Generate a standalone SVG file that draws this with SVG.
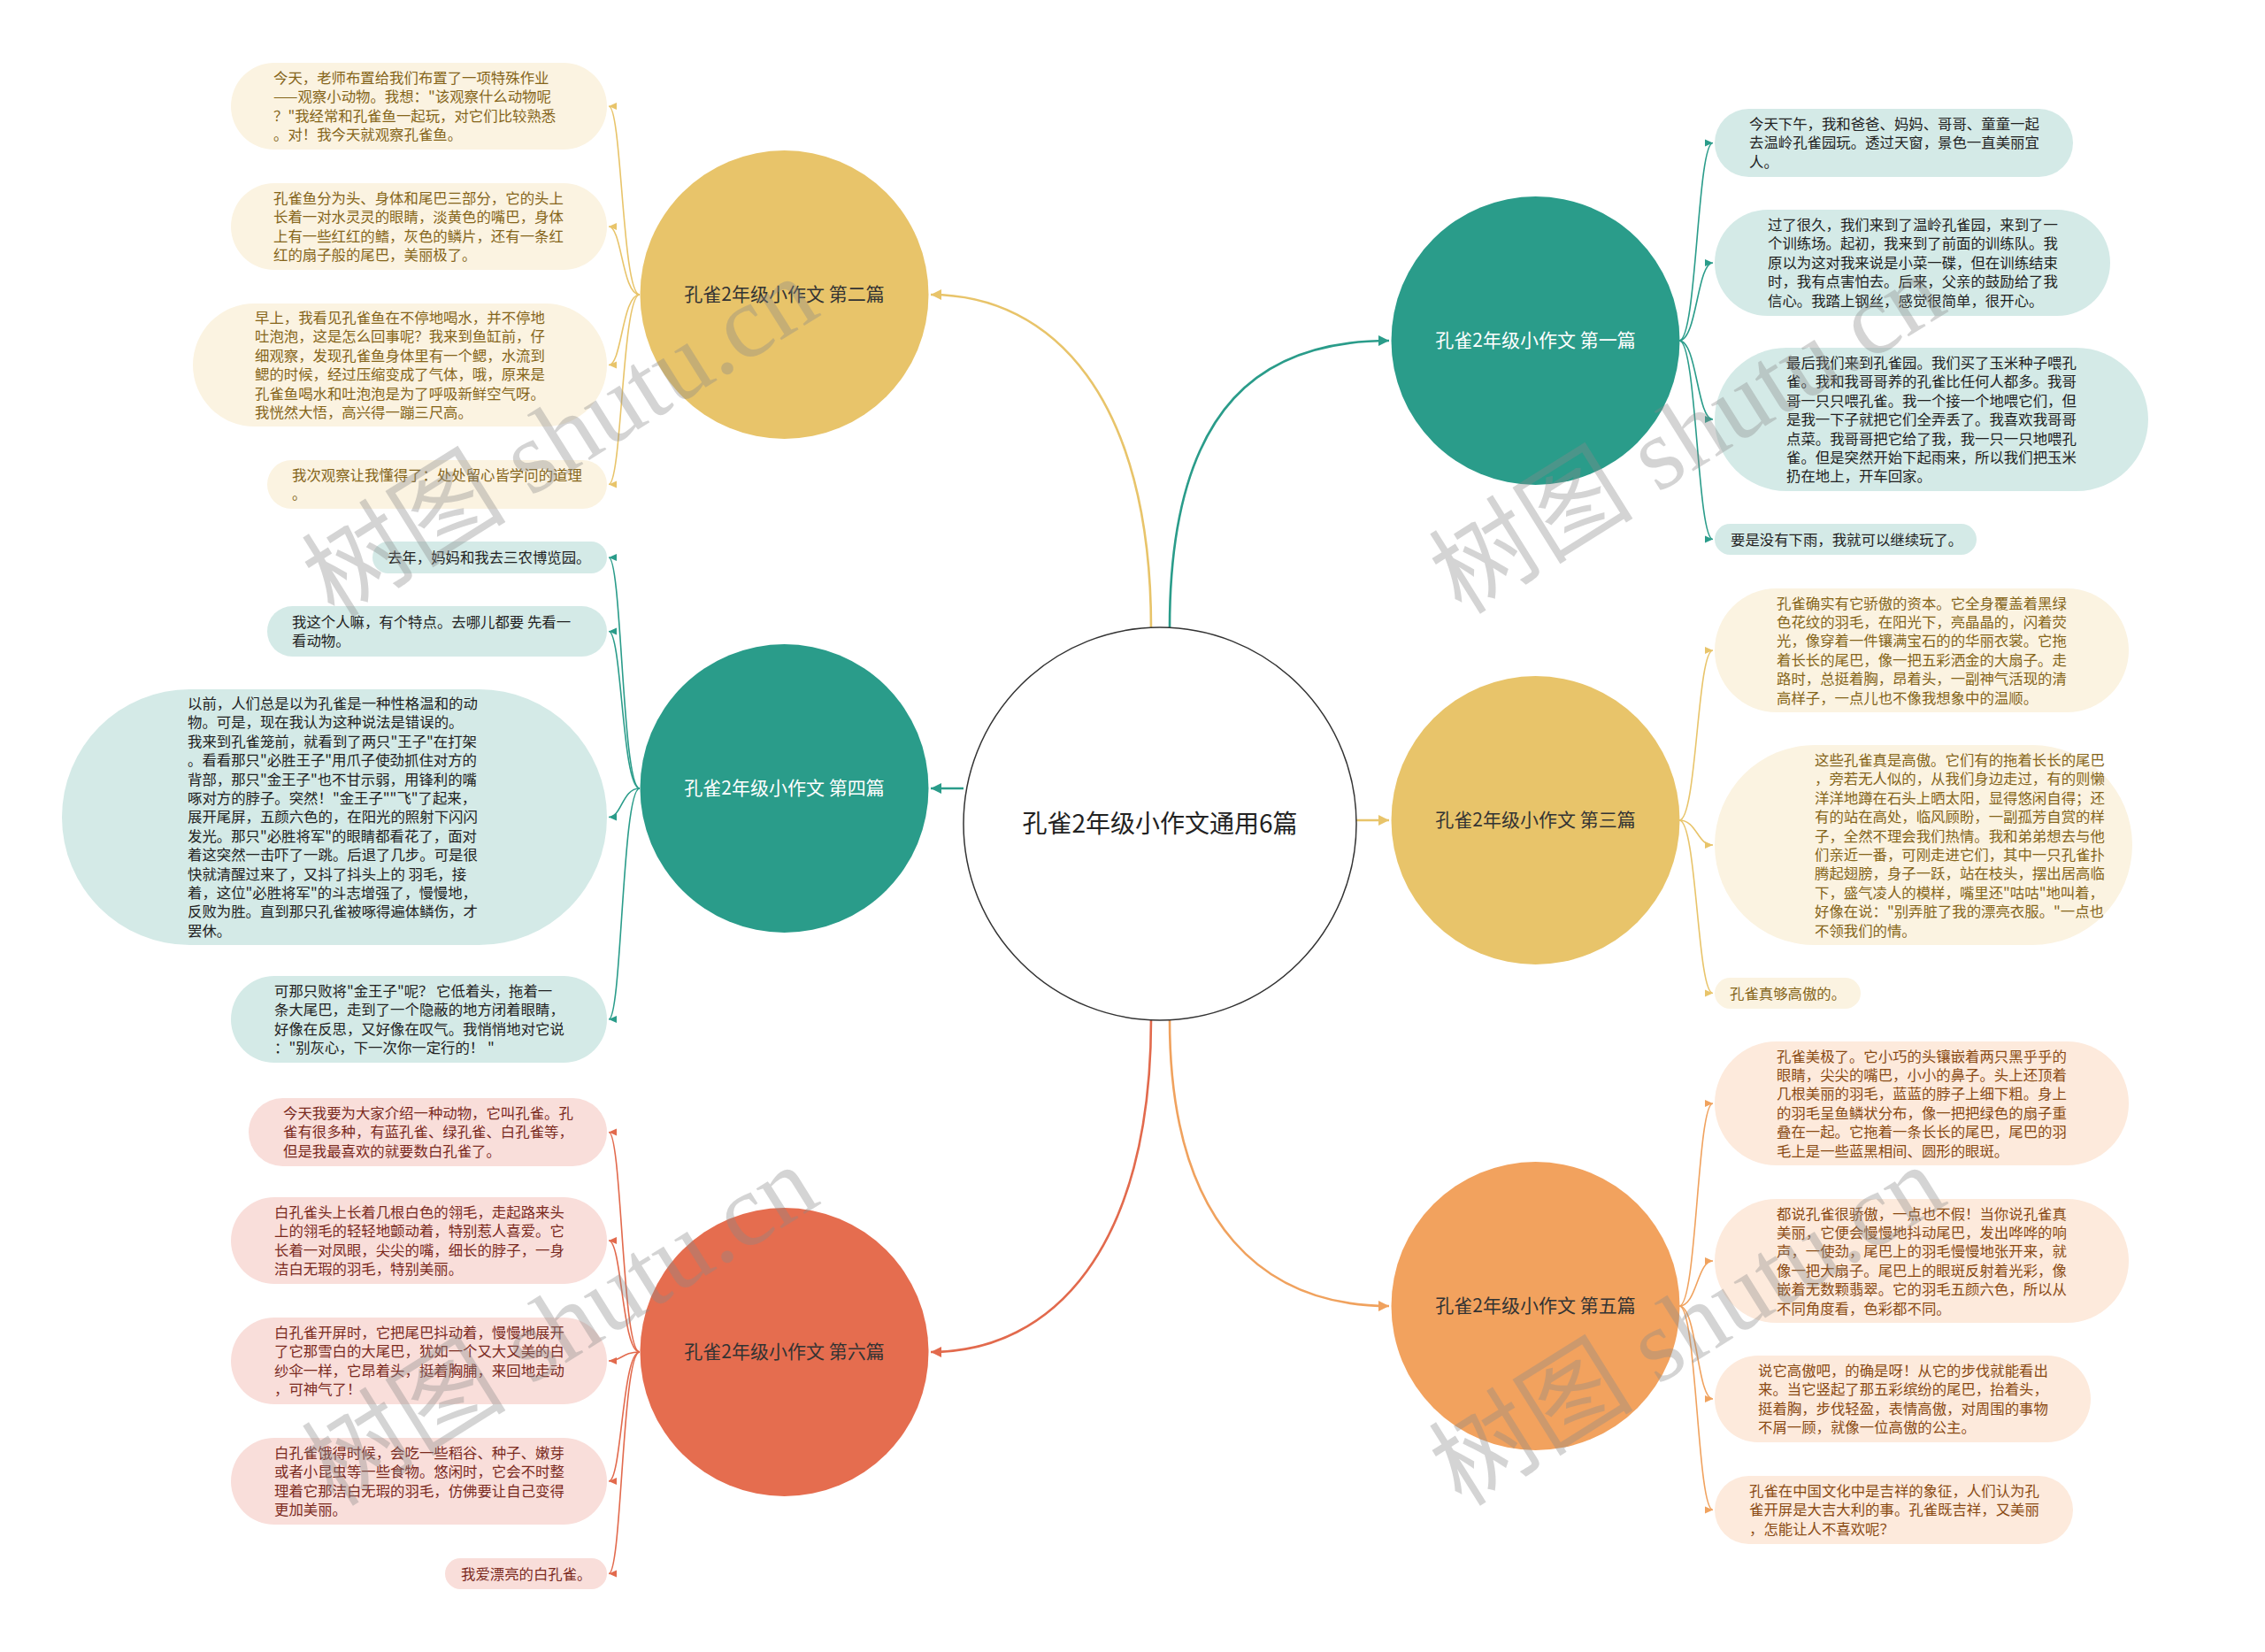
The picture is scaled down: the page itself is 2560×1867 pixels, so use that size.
<svg xmlns="http://www.w3.org/2000/svg" width="2560" height="1867" viewBox="0 0 2560 1867">
<style>
.t{font-family:"Noto Sans CJK SC","Noto Sans",sans-serif;font-size:16.4px}
.tt{fill:#222}.ty{fill:#85651a}.tr{fill:#7b2a1e}.to{fill:#8a4a14}
.bt{fill:#d4eae7}.by{fill:#fbf3e1}.br{fill:#f9deda}.bo{fill:#fdeadc}
.nt{font-family:"Noto Sans CJK SC","Noto Sans",sans-serif;font-size:21px;text-anchor:middle}
.ct{stroke:#2a9c8a}.cy{stroke:#e8c46a}.cr{stroke:#e26a4d}.co{stroke:#f0a25e}
.lc{fill:none;stroke-width:1.6}
.mc{fill:none;stroke-width:2.6}
.wm{font-family:"Liberation Serif","Noto Sans CJK SC",serif;font-size:116px;fill:#8a8a8a;opacity:0.36}
</style>
<defs>
<marker id="at" markerUnits="userSpaceOnUse" markerWidth="10" markerHeight="10" refX="9" refY="5" orient="auto"><path d="M0,1 L9,5 L0,9 z" fill="#2a9c8a"/></marker>
<marker id="ay" markerUnits="userSpaceOnUse" markerWidth="10" markerHeight="10" refX="9" refY="5" orient="auto"><path d="M0,1 L9,5 L0,9 z" fill="#e8c46a"/></marker>
<marker id="ar" markerUnits="userSpaceOnUse" markerWidth="10" markerHeight="10" refX="9" refY="5" orient="auto"><path d="M0,1 L9,5 L0,9 z" fill="#e26a4d"/></marker>
<marker id="ao" markerUnits="userSpaceOnUse" markerWidth="10" markerHeight="10" refX="9" refY="5" orient="auto"><path d="M0,1 L9,5 L0,9 z" fill="#f0a25e"/></marker>
<marker id="mt" markerUnits="userSpaceOnUse" markerWidth="14" markerHeight="14" refX="12" refY="7" orient="auto"><path d="M0,1 L12,7 L0,13 z" fill="#2a9c8a"/></marker>
<marker id="my" markerUnits="userSpaceOnUse" markerWidth="14" markerHeight="14" refX="12" refY="7" orient="auto"><path d="M0,1 L12,7 L0,13 z" fill="#e8c46a"/></marker>
<marker id="mr" markerUnits="userSpaceOnUse" markerWidth="14" markerHeight="14" refX="12" refY="7" orient="auto"><path d="M0,1 L12,7 L0,13 z" fill="#e26a4d"/></marker>
<marker id="mo" markerUnits="userSpaceOnUse" markerWidth="14" markerHeight="14" refX="12" refY="7" orient="auto"><path d="M0,1 L12,7 L0,13 z" fill="#f0a25e"/></marker>
</defs>
<rect width="2560" height="1867" fill="#ffffff"/>

<g id="connectors">
<path class="mc cy" d="M1301,710 C1301,450 1190,333 1052,333" marker-end="url(#my)"/>
<path class="mc ct" d="M1322,710 C1322,450 1433,385 1570,385" marker-end="url(#mt)"/>
<path class="mc ct" d="M1089,891 L1052,891" marker-end="url(#mt)"/>
<path class="mc cy" d="M1533,927 L1570,927" marker-end="url(#my)"/>
<path class="mc cr" d="M1301,1152 C1301,1410 1190,1528 1052,1528" marker-end="url(#mr)"/>
<path class="mc co" d="M1322,1152 C1322,1390 1433,1476 1570,1476" marker-end="url(#mo)"/>

<path class="lc cy" d="M723,333 C703,333 703,120 688,120" marker-end="url(#ay)"/>
<path class="lc cy" d="M723,333 C703,333 703,256 688,256" marker-end="url(#ay)"/>
<path class="lc cy" d="M723,333 C703,333 703,412.5 688,412.5" marker-end="url(#ay)"/>
<path class="lc cy" d="M723,333 C703,333 703,547.5 688,547.5" marker-end="url(#ay)"/>

<path class="lc ct" d="M723,891 C703,891 703,630 688,630" marker-end="url(#at)"/>
<path class="lc ct" d="M723,891 C703,891 703,713.5 688,713.5" marker-end="url(#at)"/>
<path class="lc ct" d="M723,891 C703,891 703,923.5 688,923.5" marker-end="url(#at)"/>
<path class="lc ct" d="M723,891 C703,891 703,1152 688,1152" marker-end="url(#at)"/>

<path class="lc cr" d="M723,1528 C703,1528 703,1279.5 688,1279.5" marker-end="url(#ar)"/>
<path class="lc cr" d="M723,1528 C703,1528 703,1402 688,1402" marker-end="url(#ar)"/>
<path class="lc cr" d="M723,1528 C703,1528 703,1538 688,1538" marker-end="url(#ar)"/>
<path class="lc cr" d="M723,1528 C703,1528 703,1674 688,1674" marker-end="url(#ar)"/>
<path class="lc cr" d="M723,1528 C703,1528 703,1778.5 688,1778.5" marker-end="url(#ar)"/>

<path class="lc ct" d="M1898,385 C1918,385 1918,161.5 1936,161.5" marker-end="url(#at)"/>
<path class="lc ct" d="M1898,385 C1918,385 1918,297 1936,297" marker-end="url(#at)"/>
<path class="lc ct" d="M1898,385 C1918,385 1918,474 1936,474" marker-end="url(#at)"/>
<path class="lc ct" d="M1898,385 C1918,385 1918,609.5 1936,609.5" marker-end="url(#at)"/>

<path class="lc cy" d="M1898,927 C1918,927 1918,735 1936,735" marker-end="url(#ay)"/>
<path class="lc cy" d="M1898,927 C1918,927 1918,955 1936,955" marker-end="url(#ay)"/>
<path class="lc cy" d="M1898,927 C1918,927 1918,1122.5 1936,1122.5" marker-end="url(#ay)"/>

<path class="lc co" d="M1898,1476 C1918,1476 1918,1247 1936,1247" marker-end="url(#ao)"/>
<path class="lc co" d="M1898,1476 C1918,1476 1918,1425 1936,1425" marker-end="url(#ao)"/>
<path class="lc co" d="M1898,1476 C1918,1476 1918,1581 1936,1581" marker-end="url(#ao)"/>
<path class="lc co" d="M1898,1476 C1918,1476 1918,1706.5 1936,1706.5" marker-end="url(#ao)"/>
</g>

<g id="center">
<circle cx="1311" cy="931" r="222" fill="#ffffff" stroke="#333333" stroke-width="1.5"/>
<text x="1311" y="941" class="nt" style="font-size:28px" fill="#222">孔雀2年级小作文通用6篇</text>
</g>

<g id="n2"><circle cx="886.5" cy="333" r="163" fill="#e8c46a"/><text x="886.5" y="340" class="nt" fill="#333">孔雀2年级小作文 第二篇</text></g>
<g id="n4"><circle cx="886.5" cy="891" r="163" fill="#2a9c8a"/><text x="886.5" y="898" class="nt" fill="#ffffff">孔雀2年级小作文 第四篇</text></g>
<g id="n6"><circle cx="886.5" cy="1528" r="163" fill="#e56d4f"/><text x="886.5" y="1535" class="nt" fill="#333">孔雀2年级小作文 第六篇</text></g>
<g id="n1"><circle cx="1735.5" cy="385" r="163" fill="#2a9c8a"/><text x="1735.5" y="392" class="nt" fill="#ffffff">孔雀2年级小作文 第一篇</text></g>
<g id="n3"><circle cx="1735.5" cy="927" r="163" fill="#e8c46a"/><text x="1735.5" y="934" class="nt" fill="#333">孔雀2年级小作文 第三篇</text></g>
<g id="n5"><circle cx="1735.5" cy="1476" r="163" fill="#f2a25e"/><text x="1735.5" y="1483" class="nt" fill="#333">孔雀2年级小作文 第五篇</text></g>

<g id="l2-1"><rect x="261" y="71" width="425" height="98" rx="49" class="by"/>
<text class="t ty" x="309" y="94"><tspan x="309">今天，老师布置给我们布置了一项特殊作业</tspan><tspan x="309" dy="21.4">——观察小动物。我想："该观察什么动物呢</tspan><tspan x="309" dy="21.4">？"我经常和孔雀鱼一起玩，对它们比较熟悉</tspan><tspan x="309" dy="21.4">。对！我今天就观察孔雀鱼。</tspan></text></g>
<g id="l2-2"><rect x="261" y="207" width="425" height="98" rx="49" class="by"/>
<text class="t ty" x="309" y="230"><tspan x="309">孔雀鱼分为头、身体和尾巴三部分，它的头上</tspan><tspan x="309" dy="21.4">长着一对水灵灵的眼睛，淡黄色的嘴巴，身体</tspan><tspan x="309" dy="21.4">上有一些红红的鳍，灰色的鳞片，还有一条红</tspan><tspan x="309" dy="21.4">红的扇子般的尾巴，美丽极了。</tspan></text></g>
<g id="l2-3"><rect x="218" y="343" width="468" height="139" rx="69.5" class="by"/>
<text class="t ty" x="288" y="365"><tspan x="288">早上，我看见孔雀鱼在不停地喝水，并不停地</tspan><tspan x="288" dy="21.4">吐泡泡，这是怎么回事呢？我来到鱼缸前，仔</tspan><tspan x="288" dy="21.4">细观察，发现孔雀鱼身体里有一个鳃，水流到</tspan><tspan x="288" dy="21.4">鳃的时候，经过压缩变成了气体，哦，原来是</tspan><tspan x="288" dy="21.4">孔雀鱼喝水和吐泡泡是为了呼吸新鲜空气呀。</tspan><tspan x="288" dy="21.4">我恍然大悟，高兴得一蹦三尺高。</tspan></text></g>
<g id="l2-4"><rect x="302" y="520" width="384" height="55" rx="27.5" class="by"/>
<text class="t ty" x="330" y="543"><tspan x="330">我次观察让我懂得了：处处留心皆学问的道理</tspan><tspan x="330" dy="21.4">。</tspan></text></g>

<g id="l4-1"><rect x="421" y="612" width="265" height="36" rx="18" class="bt"/>
<text class="t tt" x="438" y="636">去年，妈妈和我去三农博览园。</text></g>
<g id="l4-2"><rect x="302" y="685" width="384" height="57" rx="28.5" class="bt"/>
<text class="t tt" x="330" y="709"><tspan x="330">我这个人嘛，有个特点。去哪儿都要 先看一</tspan><tspan x="330" dy="21.4">看动物。</tspan></text></g>
<g id="l4-3"><rect x="70" y="779" width="616" height="289" rx="144.5" class="bt"/>
<text class="t tt" x="212" y="801"><tspan x="212">以前，人们总是以为孔雀是一种性格温和的动</tspan><tspan x="212" dy="21.4">物。可是，现在我认为这种说法是错误的。</tspan><tspan x="212" dy="21.4">我来到孔雀笼前，就看到了两只"王子"在打架</tspan><tspan x="212" dy="21.4">。看看那只"必胜王子"用爪子使劲抓住对方的</tspan><tspan x="212" dy="21.4">背部，那只"金王子"也不甘示弱，用锋利的嘴</tspan><tspan x="212" dy="21.4">啄对方的脖子。突然！"金王子""飞"了起来，</tspan><tspan x="212" dy="21.4">展开尾屏，五颜六色的，在阳光的照射下闪闪</tspan><tspan x="212" dy="21.4">发光。那只"必胜将军"的眼睛都看花了，面对</tspan><tspan x="212" dy="21.4">着这突然一击吓了一跳。后退了几步。可是很</tspan><tspan x="212" dy="21.4">快就清醒过来了，又抖了抖头上的 羽毛，接</tspan><tspan x="212" dy="21.4">着，这位"必胜将军"的斗志增强了，慢慢地，</tspan><tspan x="212" dy="21.4">反败为胜。直到那只孔雀被啄得遍体鳞伤，才</tspan><tspan x="212" dy="21.4">罢休。</tspan></text></g>
<g id="l4-4"><rect x="261" y="1103" width="425" height="98" rx="49" class="bt"/>
<text class="t tt" x="310" y="1126"><tspan x="310">可那只败将"金王子"呢？ 它低着头，拖着一</tspan><tspan x="310" dy="21.4">条大尾巴，走到了一个隐蔽的地方闭着眼睛，</tspan><tspan x="310" dy="21.4">好像在反思，又好像在叹气。我悄悄地对它说</tspan><tspan x="310" dy="21.4">："别灰心，下一次你一定行的！ "</tspan></text></g>

<g id="l6-1"><rect x="281" y="1241" width="405" height="77" rx="38.5" class="br"/>
<text class="t tr" x="320" y="1264"><tspan x="320">今天我要为大家介绍一种动物，它叫孔雀。孔</tspan><tspan x="320" dy="21.4">雀有很多种，有蓝孔雀、绿孔雀、白孔雀等，</tspan><tspan x="320" dy="21.4">但是我最喜欢的就要数白孔雀了。</tspan></text></g>
<g id="l6-2"><rect x="261" y="1353" width="425" height="98" rx="49" class="br"/>
<text class="t tr" x="310" y="1376"><tspan x="310">白孔雀头上长着几根白色的翎毛，走起路来头</tspan><tspan x="310" dy="21.4">上的翎毛的轻轻地颤动着，特别惹人喜爱。它</tspan><tspan x="310" dy="21.4">长着一对凤眼，尖尖的嘴，细长的脖子，一身</tspan><tspan x="310" dy="21.4">洁白无瑕的羽毛，特别美丽。</tspan></text></g>
<g id="l6-3"><rect x="261" y="1489" width="425" height="98" rx="49" class="br"/>
<text class="t tr" x="310" y="1512"><tspan x="310">白孔雀开屏时，它把尾巴抖动着，慢慢地展开</tspan><tspan x="310" dy="21.4">了它那雪白的大尾巴，犹如一个又大又美的白</tspan><tspan x="310" dy="21.4">纱伞一样，它昂着头，挺着胸脯，来回地走动</tspan><tspan x="310" dy="21.4">，可神气了！</tspan></text></g>
<g id="l6-4"><rect x="261" y="1625" width="425" height="98" rx="49" class="br"/>
<text class="t tr" x="310" y="1648"><tspan x="310">白孔雀饿得时候，会吃一些稻谷、种子、嫩芽</tspan><tspan x="310" dy="21.4">或者小昆虫等一些食物。悠闲时，它会不时整</tspan><tspan x="310" dy="21.4">理着它那洁白无瑕的羽毛，仿佛要让自己变得</tspan><tspan x="310" dy="21.4">更加美丽。</tspan></text></g>
<g id="l6-5"><rect x="503" y="1761" width="183" height="35" rx="17.5" class="br"/>
<text class="t tr" x="521" y="1784.5">我爱漂亮的白孔雀。</text></g>

<g id="r1-1"><rect x="1938" y="123" width="405" height="77" rx="38.5" class="bt"/>
<text class="t tt" x="1977" y="146"><tspan x="1977">今天下午，我和爸爸、妈妈、哥哥、童童一起</tspan><tspan x="1977" dy="21.4">去温岭孔雀园玩。透过天窗，景色一直美丽宜</tspan><tspan x="1977" dy="21.4">人。</tspan></text></g>
<g id="r1-2"><rect x="1938" y="237" width="447" height="120" rx="60" class="bt"/>
<text class="t tt" x="1998" y="260"><tspan x="1998">过了很久，我们来到了温岭孔雀园，来到了一</tspan><tspan x="1998" dy="21.4">个训练场。起初，我来到了前面的训练队。我</tspan><tspan x="1998" dy="21.4">原以为这对我来说是小菜一碟，但在训练结束</tspan><tspan x="1998" dy="21.4">时，我有点害怕去。后来，父亲的鼓励给了我</tspan><tspan x="1998" dy="21.4">信心。我踏上钢丝，感觉很简单，很开心。</tspan></text></g>
<g id="r1-3"><rect x="1938" y="393" width="490" height="162" rx="81" class="bt"/>
<text class="t tt" x="2019" y="416"><tspan x="2019">最后我们来到孔雀园。我们买了玉米种子喂孔</tspan><tspan x="2019" dy="21.4">雀。我和我哥哥养的孔雀比任何人都多。我哥</tspan><tspan x="2019" dy="21.4">哥一只只喂孔雀。我一个接一个地喂它们，但</tspan><tspan x="2019" dy="21.4">是我一下子就把它们全弄丢了。我喜欢我哥哥</tspan><tspan x="2019" dy="21.4">点菜。我哥哥把它给了我，我一只一只地喂孔</tspan><tspan x="2019" dy="21.4">雀。但是突然开始下起雨来，所以我们把玉米</tspan><tspan x="2019" dy="21.4">扔在地上，开车回家。</tspan></text></g>
<g id="r1-4"><rect x="1938" y="592" width="296" height="35" rx="17.5" class="bt"/>
<text class="t tt" x="1956" y="615.5">要是没有下雨，我就可以继续玩了。</text></g>

<g id="r3-1"><rect x="1938" y="665" width="468" height="140" rx="70" class="by"/>
<text class="t ty" x="2008" y="687.5"><tspan x="2008">孔雀确实有它骄傲的资本。它全身覆盖着黑绿</tspan><tspan x="2008" dy="21.4">色花纹的羽毛，在阳光下，亮晶晶的，闪着荧</tspan><tspan x="2008" dy="21.4">光，像穿着一件镶满宝石的的华丽衣裳。它拖</tspan><tspan x="2008" dy="21.4">着长长的尾巴，像一把五彩洒金的大扇子。走</tspan><tspan x="2008" dy="21.4">路时，总挺着胸，昂着头，一副神气活现的清</tspan><tspan x="2008" dy="21.4">高样子，一点儿也不像我想象中的温顺。</tspan></text></g>
<g id="r3-2"><rect x="1938" y="842" width="472" height="226" rx="113" class="by"/>
<text class="t ty" x="2051" y="865"><tspan x="2051">这些孔雀真是高傲。它们有的拖着长长的尾巴</tspan><tspan x="2051" dy="21.4">，旁若无人似的，从我们身边走过，有的则懒</tspan><tspan x="2051" dy="21.4">洋洋地蹲在石头上晒太阳，显得悠闲自得；还</tspan><tspan x="2051" dy="21.4">有的站在高处，临风顾盼，一副孤芳自赏的样</tspan><tspan x="2051" dy="21.4">子，全然不理会我们热情。我和弟弟想去与他</tspan><tspan x="2051" dy="21.4">们亲近一番，可刚走进它们，其中一只孔雀扑</tspan><tspan x="2051" dy="21.4">腾起翅膀，身子一跃，站在枝头，摆出居高临</tspan><tspan x="2051" dy="21.4">下，盛气凌人的模样，嘴里还"咕咕"地叫着，</tspan><tspan x="2051" dy="21.4">好像在说："别弄脏了我的漂亮衣服。"一点也</tspan><tspan x="2051" dy="21.4">不领我们的情。</tspan></text></g>
<g id="r3-3"><rect x="1938" y="1105" width="165" height="35" rx="17.5" class="by"/>
<text class="t ty" x="1955" y="1128.5">孔雀真够高傲的。</text></g>

<g id="r5-1"><rect x="1938" y="1177" width="468" height="140" rx="70" class="bo"/>
<text class="t to" x="2008" y="1199.5"><tspan x="2008">孔雀美极了。它小巧的头镶嵌着两只黑乎乎的</tspan><tspan x="2008" dy="21.4">眼睛，尖尖的嘴巴，小小的鼻子。头上还顶着</tspan><tspan x="2008" dy="21.4">几根美丽的羽毛，蓝蓝的脖子上细下粗。身上</tspan><tspan x="2008" dy="21.4">的羽毛呈鱼鳞状分布，像一把把绿色的扇子重</tspan><tspan x="2008" dy="21.4">叠在一起。它拖着一条长长的尾巴，尾巴的羽</tspan><tspan x="2008" dy="21.4">毛上是一些蓝黑相间、圆形的眼斑。</tspan></text></g>
<g id="r5-2"><rect x="1938" y="1355" width="468" height="140" rx="70" class="bo"/>
<text class="t to" x="2008" y="1377.5"><tspan x="2008">都说孔雀很骄傲，一点也不假！当你说孔雀真</tspan><tspan x="2008" dy="21.4">美丽，它便会慢慢地抖动尾巴，发出哗哗的响</tspan><tspan x="2008" dy="21.4">声，一使劲，尾巴上的羽毛慢慢地张开来，就</tspan><tspan x="2008" dy="21.4">像一把大扇子。尾巴上的眼斑反射着光彩，像</tspan><tspan x="2008" dy="21.4">嵌着无数颗翡翠。它的羽毛五颜六色，所以从</tspan><tspan x="2008" dy="21.4">不同角度看，色彩都不同。</tspan></text></g>
<g id="r5-3"><rect x="1938" y="1532" width="425" height="98" rx="49" class="bo"/>
<text class="t to" x="1987" y="1555"><tspan x="1987">说它高傲吧，的确是呀！从它的步伐就能看出</tspan><tspan x="1987" dy="21.4">来。当它竖起了那五彩缤纷的尾巴，抬着头，</tspan><tspan x="1987" dy="21.4">挺着胸，步伐轻盈，表情高傲，对周围的事物</tspan><tspan x="1987" dy="21.4">不屑一顾，就像一位高傲的公主。</tspan></text></g>
<g id="r5-4"><rect x="1938" y="1668" width="405" height="77" rx="38.5" class="bo"/>
<text class="t to" x="1977" y="1691"><tspan x="1977">孔雀在中国文化中是吉祥的象征，人们认为孔</tspan><tspan x="1977" dy="21.4">雀开屏是大吉大利的事。孔雀既吉祥，又美丽</tspan><tspan x="1977" dy="21.4">，怎能让人不喜欢呢？</tspan></text></g>

<g id="watermarks">
<text class="wm" x="378" y="700" transform="rotate(-32 378 700)">树图 shutu.cn</text>
<text class="wm" x="1652" y="696" transform="rotate(-32 1652 696)">树图 shutu.cn</text>
<text class="wm" x="378" y="1704" transform="rotate(-32 378 1704)">树图 shutu.cn</text>
<text class="wm" x="1652" y="1704" transform="rotate(-32 1652 1704)">树图 shutu.cn</text>
</g>
</svg>
